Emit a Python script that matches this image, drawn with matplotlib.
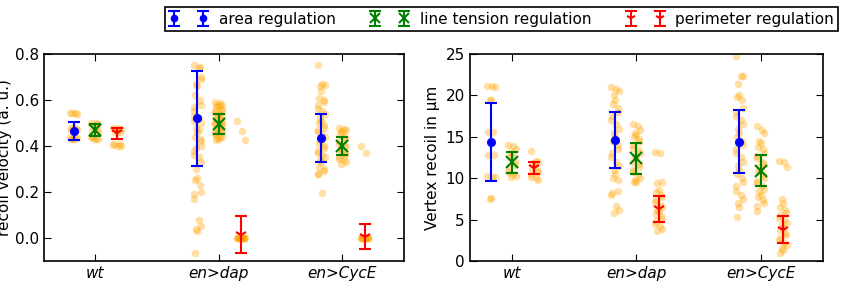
import numpy as np
import matplotlib

matplotlib.use("Agg")
import matplotlib.pyplot as plt
from matplotlib.ticker import MultipleLocator

groups = ["wt", "en>dap", "en>CycE"]
models = ["area regulation", "line tension regulation", "perimeter regulation"]

# recoil velocity samples (a. u.), [group][model]
vel_points = [
    [
        [0.545, 0.545, 0.54, 0.545, 0.48, 0.48, 0.475, 0.47, 0.47, 0.44, 0.44, 0.435, 0.43, 0.43, 0.43],
        [0.50, 0.50, 0.495, 0.49, 0.48, 0.47, 0.47, 0.46, 0.44, 0.44, 0.43, 0.43, 0.43],
        [0.48, 0.48, 0.475, 0.47, 0.465, 0.46, 0.46, 0.41, 0.41, 0.405, 0.40, 0.40],
    ],
    [
        [0.75, 0.74, 0.70, 0.67, 0.66, 0.62, 0.60, 0.58, 0.55, 0.53, 0.52, 0.50, 0.48, 0.46, 0.44,
         0.43, 0.40, 0.38, 0.36, 0.35, 0.33, 0.30, 0.26, 0.25, 0.23, 0.20, 0.19, 0.17, 0.08, 0.05,
         0.04, 0.03, -0.065, 0.745, 0.69, 0.57, 0.51, 0.47, 0.42, 0.39],
        [0.59, 0.585, 0.58, 0.58, 0.575, 0.57, 0.56, 0.555, 0.55, 0.545, 0.54, 0.535, 0.53, 0.52,
         0.515, 0.51, 0.50, 0.50, 0.495, 0.49, 0.485, 0.48, 0.475, 0.47, 0.465, 0.46, 0.455, 0.45,
         0.445, 0.44, 0.435, 0.43, 0.425],
        [0.51, 0.465, 0.425, 0.0, 0.0, 0.0, 0.0, 0.0, 0.0, 0.0, 0.0, 0.0, 0.0, 0.0, 0.0, 0.0, 0.0],
    ],
    [
        [0.75, 0.67, 0.665, 0.66, 0.64, 0.61, 0.60, 0.59, 0.58, 0.56, 0.55, 0.54, 0.52, 0.51, 0.50,
         0.49, 0.48, 0.47, 0.46, 0.45, 0.44, 0.43, 0.42, 0.41, 0.40, 0.39, 0.38, 0.37, 0.36, 0.35,
         0.34, 0.33, 0.31, 0.30, 0.29, 0.28, 0.28, 0.195],
        [0.48, 0.475, 0.47, 0.465, 0.46, 0.45, 0.44, 0.43, 0.42, 0.41, 0.40, 0.40, 0.39, 0.38,
         0.375, 0.37, 0.36, 0.35, 0.345, 0.34, 0.33, 0.32],
        [0.40, 0.37, 0.0, 0.0, 0.0, 0.0, 0.0, 0.0, 0.0, 0.0, 0.0, 0.0, 0.0, 0.0],
    ],
]
vel_mean = [[0.465, 0.47, 0.455], [0.52, 0.495, 0.015], [0.435, 0.40, 0.005]]
vel_err = [[0.04, 0.025, 0.025], [0.205, 0.045, 0.08], [0.105, 0.04, 0.055]]

# vertex recoil samples (um), [group][model]
rec_points = [
    [
        [21.1, 21.1, 21.0, 19.5, 19.5, 15.6, 15.6, 12.8, 12.8, 10.3, 10.2, 10.1, 7.5, 7.6],
        [14.0, 13.9, 13.5, 13.2, 12.8, 12.5, 12.0, 11.6, 11.2, 10.8, 10.5, 10.3, 10.1],
        [13.3, 12.1, 12.0, 11.8, 11.5, 11.2, 11.0, 10.8, 10.5, 10.2, 10.0, 9.8],
    ],
    [
        [21.0, 20.8, 20.5, 20.0, 19.5, 19.0, 18.5, 18.0, 17.5, 17.0, 16.5, 16.0, 15.5, 15.0, 14.5,
         14.0, 13.5, 13.0, 12.5, 12.0, 11.5, 11.0, 10.5, 10.0, 9.8, 8.5, 8.2, 8.0, 6.6, 6.2, 5.8],
        [16.6, 16.3, 15.8, 15.5, 15.2, 15.0, 14.7, 14.4, 14.0, 13.7, 13.4, 13.0, 12.7, 12.4, 12.0,
         11.7, 11.4, 11.0, 10.7, 10.4, 10.0, 9.8, 9.6, 9.5],
        [13.2, 13.0, 9.6, 9.4, 8.6, 8.3, 8.0, 7.7, 7.4, 7.1, 6.8, 6.5, 6.2, 6.0, 5.7, 5.4, 5.1,
         4.8, 4.5, 4.2, 3.9, 3.6],
    ],
    [
        [24.8, 22.4, 22.3, 21.4, 20.1, 19.8, 19.5, 18.5, 18.0, 17.5, 17.0, 16.5, 16.0, 15.5, 15.0,
         14.5, 14.0, 13.5, 13.0, 12.5, 12.0, 11.5, 11.0, 10.5, 10.0, 9.5, 9.0, 8.5, 8.0, 7.5, 7.0,
         6.5, 5.3],
        [16.3, 15.8, 15.5, 14.5, 14.2, 13.8, 13.5, 13.0, 12.7, 12.4, 12.0, 11.7, 11.4, 11.0, 10.7,
         10.4, 10.0, 9.7, 9.4, 9.0, 8.7, 8.4, 8.0, 7.7, 7.4, 7.0, 6.6, 6.0],
        [12.1, 11.9, 11.4, 7.5, 7.0, 6.5, 6.2, 5.8, 5.5, 5.2, 4.9, 4.6, 4.3, 4.0, 3.7, 3.4, 3.1,
         2.8, 2.5, 2.2, 1.9, 1.6, 1.3, 1.0],
    ],
]
rec_mean = [[14.4, 11.9, 11.2], [14.6, 12.4, 6.3], [14.4, 10.9, 3.8]]
rec_err = [[4.7, 1.3, 0.7], [3.4, 1.85, 1.55], [3.8, 1.9, 1.6]]

offsets = [-0.17, 0.0, 0.18]
jitter = [-0.03, 0.01, 0.03, -0.01, 0.0, -0.02, 0.02, 0.025, -0.025]
colors = ["b", "g", "r"]
markers = ["o", "x", "1"]
msizes = [5, 9, 9]


def draw_panel(ax, points, means, errs):
    handles = []
    for g in range(len(groups)):
        for m in range(len(models)):
            ys = np.array(points[g][m])
            xs = g + offsets[m] + np.resize(jitter, ys.size)
            ax.scatter(xs, ys, s=30, color="orange", alpha=0.35, linewidths=0, zorder=1)
    for m in range(len(models)):
        xs = np.arange(len(groups)) + offsets[m]
        h = ax.errorbar(xs, [means[g][m] for g in range(3)], yerr=[errs[g][m] for g in range(3)],
                        fmt=markers[m], color=colors[m], ms=msizes[m], mew=1.5,
                        elinewidth=1.5, capsize=4, capthick=1.2, zorder=3, label=models[m])
        handles.append(h)
    ax.set_xticks(range(len(groups)))
    ax.set_xticklabels(groups, fontstyle="italic", fontsize=11)
    ax.tick_params(direction="in", top=True, right=True, labelsize=11, length=5)
    for s in ax.spines.values():
        s.set_linewidth(1.2)
    return handles


fig = plt.figure(figsize=(8.42, 2.88), dpi=100)
ax1 = fig.add_axes([0.0523, 0.0938, 0.4277, 0.7187])
ax2 = fig.add_axes([0.558, 0.0938, 0.419, 0.7187])

handles = draw_panel(ax1, vel_points, vel_mean, vel_err)
ax1.set_xlim(-0.41, 2.5)
ax1.set_ylim(-0.1, 0.8)
ax1.yaxis.set_major_locator(MultipleLocator(0.2))
ax1.set_ylabel("recoil velocity (a. u.)", fontsize=11, labelpad=2)

draw_panel(ax2, rec_points, rec_mean, rec_err)
ax2.set_xlim(-0.34, 2.5)
ax2.set_ylim(0, 25)
ax2.yaxis.set_major_locator(MultipleLocator(5))
ax2.set_ylabel("Vertex recoil in μm", fontsize=11, labelpad=4)

leg = fig.legend(handles, models, ncol=3, loc="center", bbox_to_anchor=(0.596, 0.934),
                 fontsize=11, numpoints=2, fancybox=False, framealpha=1, markerscale=0.8,
                 edgecolor="black", borderpad=0.3, handlelength=2.5, handletextpad=0.7,
                 columnspacing=2.3)
leg.get_frame().set_linewidth(1.2)

fig.savefig("out.png", dpi=100)
